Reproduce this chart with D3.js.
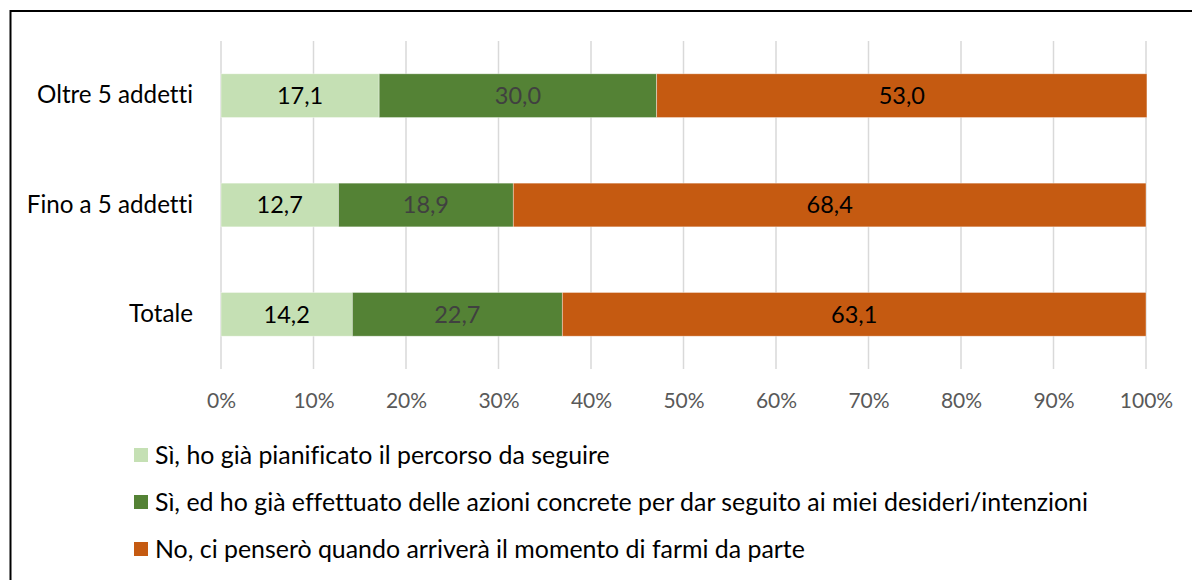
<!DOCTYPE html>
<html>
<head>
<meta charset="utf-8">
<script src="https://cdn.jsdelivr.net/npm/d3@7"></script>
<style>
  html, body { margin: 0; padding: 0; background: #fff; }
  svg { display: block; }
  text { font-family: Lato, "Open Sans", sans-serif; font-variant-ligatures: none; }
</style>
</head>
<body>
<svg id="chart" width="1192" height="580"></svg>
<script>
const categories = ["Oltre 5 addetti", "Fino a 5 addetti", "Totale"];
const seriesNames = [
  "Sì, ho già pianificato il percorso da seguire",
  "Sì, ed ho già effettuato delle azioni concrete per dar seguito ai miei desideri/intenzioni",
  "No, ci penserò quando arriverà il momento di farmi da parte"
];
const pianificato = [17.1, 12.7, 14.2];
const azioni = [30.0, 18.9, 22.7];
const no = [53.0, 68.4, 63.1];
const tickValues = [0, 10, 20, 30, 40, 50, 60, 70, 80, 90, 100];
const colors = ["#C5E0B4", "#548235", "#C55A11"];
const labelColors = ["#000000", "#404040", "#000000"];

const svg = d3.select("#chart");

// outer frame
svg.append("rect").attr("x", 10.5).attr("y", 11).attr("width", 1200).attr("height", 600)
  .attr("fill", "none").attr("stroke", "#000").attr("stroke-width", 2);

const x = d3.scaleLinear().domain([0, 100]).range([221, 1146]);
const y = d3.scaleBand().domain(categories).range([41, 369]).paddingInner(0.6).paddingOuter(0.3);

// gridlines
svg.append("g").selectAll("line").data(tickValues).join("line")
  .attr("x1", d => x(d)).attr("x2", d => x(d))
  .attr("y1", 41).attr("y2", 369)
  .attr("stroke", "#D9D9D9").attr("stroke-width", 1.5);

// x axis labels
const xAxis = d3.axisBottom(x).tickValues(tickValues).tickFormat(d => d + "%").tickSize(0).tickPadding(0);
const gx = svg.append("g").attr("transform", "translate(0,401)").call(xAxis);
gx.select(".domain").remove();
gx.selectAll("text").attr("fill", "#595959").attr("font-size", 21).attr("dy", "0.35em")
  .style("font-family", "Lato, 'Open Sans', sans-serif");

// category axis labels
const yAxis = d3.axisLeft(y).tickSize(0).tickPadding(0);
const gy = svg.append("g").attr("transform", "translate(193,0)").call(yAxis);
gy.select(".domain").remove();
gy.selectAll("text").attr("fill", "#000").attr("font-size", 24.2)
  .style("font-family", "Lato, 'Open Sans', sans-serif");

// stacked data
const rows = categories.map((c, i) => ({ cat: c, s0: pianificato[i], s1: azioni[i], s2: no[i] }));
const stack = d3.stack().keys(["s0", "s1", "s2"]);
const series = stack(rows);

series.forEach((s, si) => {
  const g = svg.append("g");
  g.selectAll("rect").data(s).join("rect")
    .attr("x", d => x(d[0]))
    .attr("y", d => y(d.data.cat))
    .attr("width", d => x(d[1]) - x(d[0]))
    .attr("height", y.bandwidth())
    .attr("fill", colors[si])
    .attr("stroke", "#ffffff").attr("stroke-opacity", 0.5).attr("stroke-width", 0.75);
  g.selectAll("text").data(s).join("text")
    .attr("x", d => (x(d[0]) + x(d[1])) / 2)
    .attr("y", d => y(d.data.cat) + y.bandwidth() / 2)
    .attr("dy", "0.35em")
    .attr("text-anchor", "middle")
    .attr("font-size", 23.5)
    .attr("fill", labelColors[si])
    .text(d => d3.format(".1f")(d[1] - d[0]).replace(".", ","));
});

// legend
const legendY = [455, 502, 549];
const lg = svg.append("g");
seriesNames.forEach((name, i) => {
  lg.append("rect").attr("x", 134).attr("y", legendY[i] - 7).attr("width", 14).attr("height", 14)
    .attr("fill", colors[i]);
  lg.append("text").attr("x", 155).attr("y", legendY[i]).attr("dy", "0.35em")
    .attr("font-size", 24.9).attr("fill", "#000").text(name);
});
</script>
</body>
</html>
